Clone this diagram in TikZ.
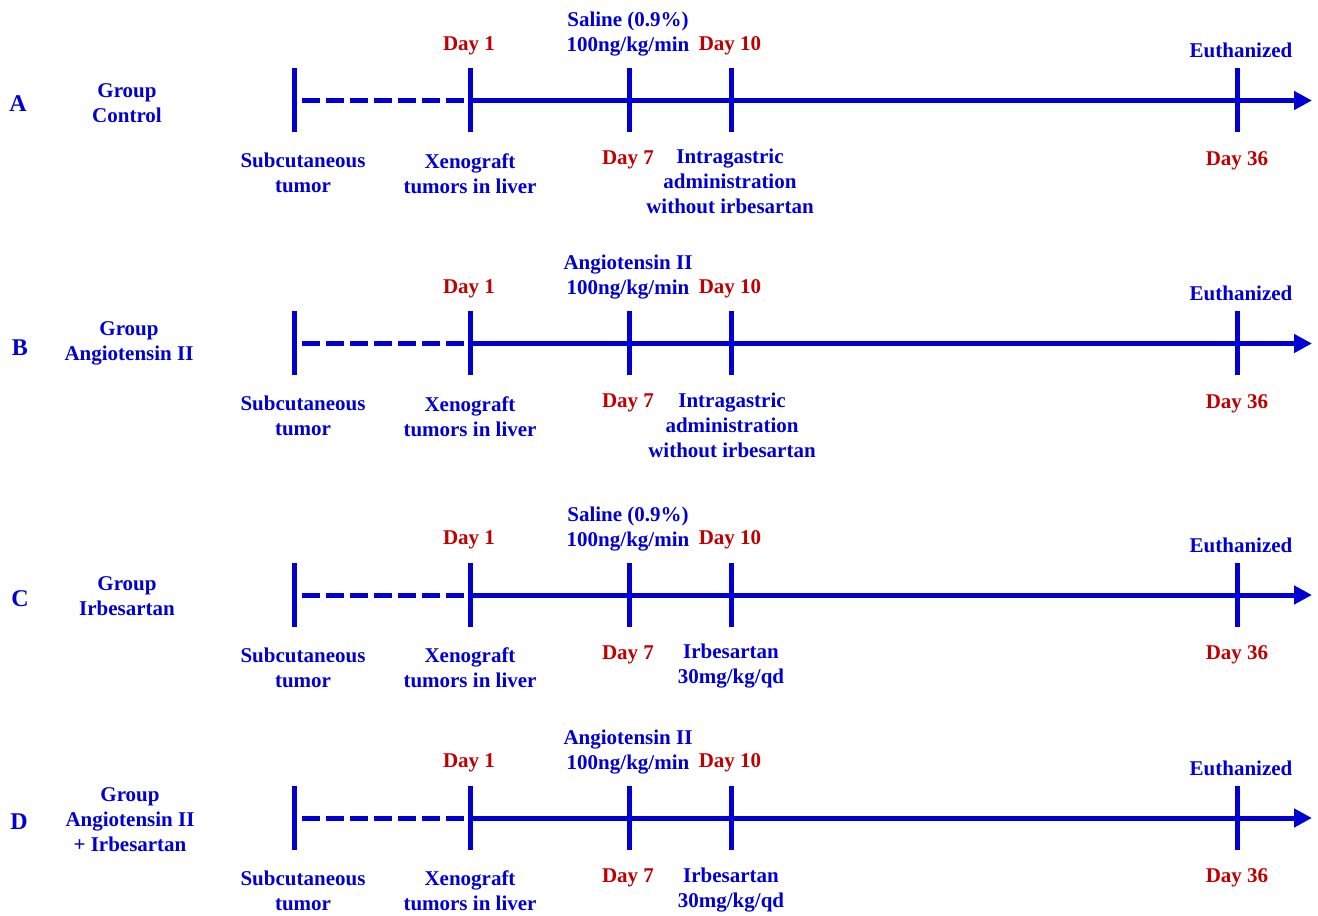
\documentclass[tikz,border=0pt]{standalone}
\usepackage{fontspec}
\setmainfont{Liberation Serif}
\usetikzlibrary{arrows.meta}
\definecolor{lineblue}{RGB}{0,0,210}
\definecolor{dayred}{RGB}{192,0,0}
\tikzstyle{lbl}  = [
    font=\fontsize{15.75}{18.75}\selectfont\bfseries,
    text=lineblue,
    align=center,
    inner sep=0pt
]
\tikzstyle{day}  = [lbl, text=dayred]
\tikzstyle{letter}  = [lbl, font=\fontsize{18}{20}\selectfont\bfseries]
\tikzstyle{daytick}  = [draw=lineblue, line width=3.75pt]
\tikzstyle{pretreat}  = [draw=lineblue, line width=3.75pt, dash pattern=on 13.5pt off 4.5pt]
\tikzstyle{timeline}  = [
    draw=lineblue,
    line width=3.75pt,
    -{Triangle[length=13.5pt,width=13.5pt]}
]
\newcommand{\timeaxis}[1]{%
  \coordinate (#1s) at (294,0);
  \coordinate (#1ds) at (302,0);
  \coordinate (#1de) at (464,0);
  \coordinate (#1d1) at (470,0);
  \coordinate (#1d7) at (629,0);
  \coordinate (#1d10) at (731,0);
  \coordinate (#1d36) at (1237,0);
  \coordinate (#1end) at (1312,0);
  \draw[pretreat] (#1ds) -- (#1de);
  \draw[timeline] (#1d1) -- (#1end);
  \foreach \t in {s,d1,d7,d10,d36}
    \draw[daytick] (#1\t) ++(0,-32) -- ++(0,64);
  \node[day] (#1day1)  at (469,-55)  {Day 1};
  \node[day] (#1day10) at (730,-55)  {Day 10};
  \node[lbl] (#1euth)  at (1241,-50) {Euthanized};
  \node[lbl] (#1subc)  at (303,72.5) {Subcutaneous\\tumor};
  \node[lbl] (#1xeno)  at (470,73)   {Xenograft\\tumors in liver};
  \node[day] (#1day7)  at (628,59.5) {Day 7};
  \node[day] (#1day36) at (1237,60)  {Day 36};
}

\begin{document}
\begin{tikzpicture}[x=0.75pt, y=-0.75pt]
\useasboundingbox (0,0) rectangle (1318,916);

% A
\begin{scope}[shift={(0,100.5)}]
\timeaxis{a}
\node[letter] (aletter) at (18,3.5) {A};
\node[lbl] (agroup) at (127,3)     {Group\\Control};
\node[lbl] (atop)   at (628,-66)   {Saline (0.9\%)\\100ng/kg/min};
\node[lbl] (abot)   at (730,81)    {Intragastric\\administration\\without irbesartan};
\end{scope}

% B
\begin{scope}[shift={(0,343.5)}]
\timeaxis{b}
\node[letter] (bletter) at (20,4.5) {B};
\node[lbl] (bgroup) at (129,0)     {Group\\Angiotensin II};
\node[lbl] (btop)   at (628,-66)   {Angiotensin II\\100ng/kg/min};
\node[lbl] (bbot)   at (732,81.5)  {Intragastric\\administration\\without irbesartan};
\end{scope}

% C
\begin{scope}[shift={(0,595)}]
\timeaxis{c}
\node[letter] (cletter) at (20,3.5) {C};
\node[lbl] (cgroup) at (127,1.5)   {Group\\Irbesartan};
\node[lbl] (ctop)   at (628,-66)   {Saline (0.9\%)\\100ng/kg/min};
\node[lbl] (cbot)   at (731,71.5)  {Irbesartan\\30mg/kg/qd};
\end{scope}

% D
\begin{scope}[shift={(0,818)}]
\timeaxis{d}
\node[letter] (dletter) at (19,3.5) {D};
\node[lbl] (dgroup) at (130,2)     {Group\\Angiotensin II\\+ Irbesartan};
\node[lbl] (dtop)   at (628,-66)   {Angiotensin II\\100ng/kg/min};
\node[lbl] (dbot)   at (731,72)    {Irbesartan\\30mg/kg/qd};
\end{scope}

\end{tikzpicture}
\end{document}
